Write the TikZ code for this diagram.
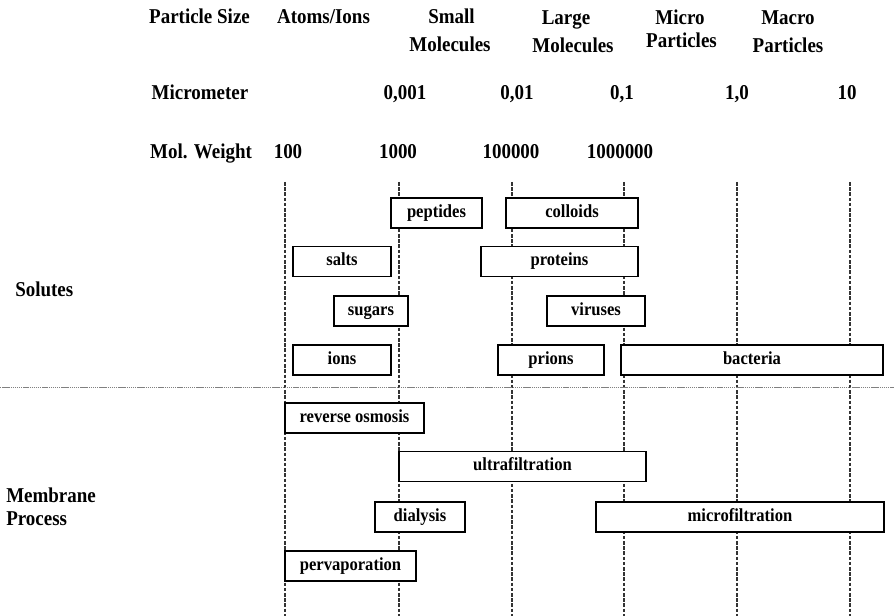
\documentclass[tikz,border=0pt]{standalone}
\usepackage{fontspec}
\usepackage{tikz}
\setmainfont{Liberation Serif}
\newfontfamily\narrowserif[FakeStretch=0.9]{Liberation Serif}

\tikzset{
  vline/.style={draw=black!80, line width=0.8pt, dash pattern=on 2.5pt off 1.2pt},
  hline/.style={draw=black!50, line width=0.6pt, dash pattern=on 1pt off 0.5pt},
  sbox/.style={draw, fill=white, line width=1.1pt, inner sep=0pt, minimum height=0.75cm,
    text height=0.72em, text depth=0.1em, font=\narrowserif\fontsize{13.1}{14}\selectfont\bfseries},
  hdr/.style={anchor=base, inner sep=0pt, font=\narrowserif\fontsize{15}{16}\selectfont\bfseries},
}

\begin{document}
\begin{tikzpicture}[x=0.025cm, y=-0.025cm]
\useasboundingbox (0,0) rectangle (894,616);

% scale rows
\node[hdr] (hsize) at (199.5,24) {Particle Size};
\node[hdr] (hatoms) at (323.5,24) {Atoms/Ions};
\node[hdr] (hsmall) at (451.5,24) {Small};
\node[hdr] (hsmallmol) at (450,52) {Molecules};
\node[hdr] (hlarge) at (566,25) {Large};
\node[hdr] (hlargemol) at (573,53) {Molecules};
\node[hdr] (hmicro) at (680,25) {Micro};
\node[hdr] (hmicropart) at (681.5,47.5) {Particles};
\node[hdr] (hmacro) at (788,25) {Macro};
\node[hdr] (hmacropart) at (788,52.5) {Particles};

\node[hdr] (hum) at (200,100) {Micrometer};
\foreach \x/\v in {405/{0,001}, 517/{0,01}, 622/{0,1}, 737/{1,0}, 847/10}
  \node[hdr] (um\x) at (\x,100) {\v};

\node[hdr] (hmw) at (201,159) {Mol. Weight};
\foreach \x/\v in {288/100, 398/1000, 511/100000, 620/1000000}
  \node[hdr] (mw\x) at (\x,159) {\v};

% grid
\foreach \x in {285,399,512,624,737,850}
  \draw[vline] (\x,182) -- (\x,616);
\draw[hline] (0,387) -- (894,387);

\node[hdr, anchor=base west] (solutes) at (15,296) {Solutes};
\node[hdr, anchor=base west] (membrane) at (6,502) {Membrane};
\node[hdr, anchor=base west] (process) at (6,525) {Process};

% solutes
\foreach \n/\a/\b/\y/\t in {peptides/391/482/213/peptides, colloids/506/638/213/colloids,
    salts/293/391/261.5/salts, proteins/481/638/261.5/proteins,
    sugars/334/408/311/sugars, viruses/547/645/311/viruses,
    ions/293/391/360/ions, prions/498/604/360/prions, bacteria/621/883/360/bacteria}
  \node[sbox, minimum width={(\b-\a)*0.025cm}] (\n) at ({(\a+\b)/2},\y) {\t};

% membrane processes
\foreach \n/\a/\b/\y/\t in {revosm/285/424/418/reverse osmosis,
    ultrafil/399/646/466.5/ultrafiltration,
    dialysis/375/465/517/dialysis, microfil/596/884/517/microfiltration,
    pervap/285/416/566/pervaporation}
  \node[sbox, minimum width={(\b-\a)*0.025cm}] (\n) at ({(\a+\b)/2},\y) {\t};
\end{tikzpicture}
\end{document}
